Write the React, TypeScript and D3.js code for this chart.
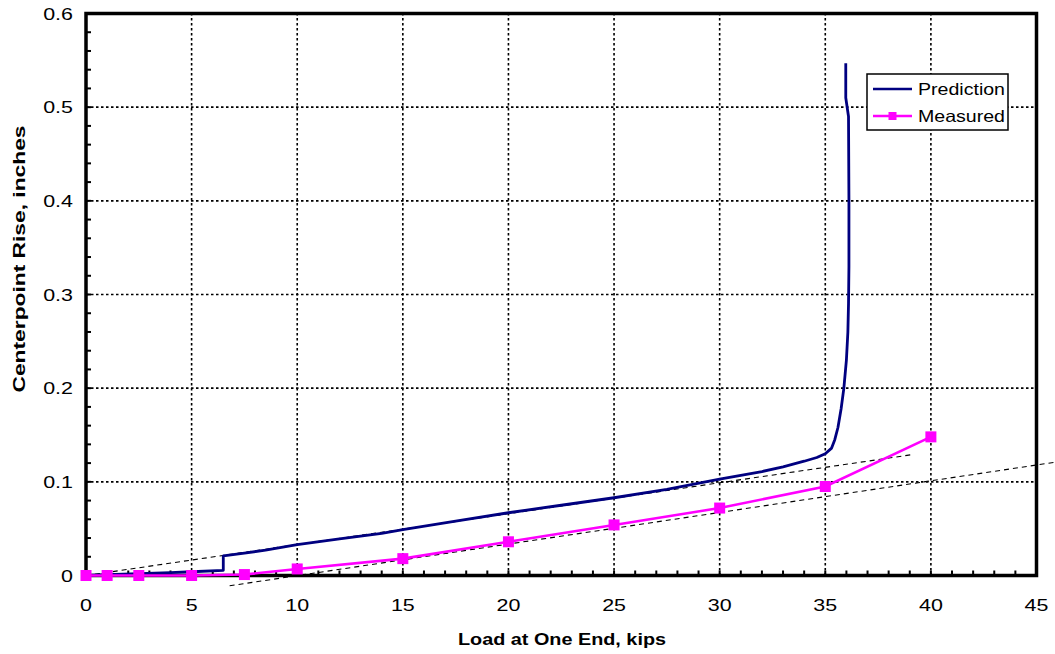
import React from "react";
import * as d3 from "d3";

const width = 1055;
const height = 654;

// prediction curve (load kips, rise inches)
const predLoad = [0, 1, 2.5, 4, 5, 6.5, 6.5, 7.5, 8.5, 10, 12, 14, 15, 17.5, 20, 22.5, 25, 27.5, 30, 32, 33, 34, 34.6, 35, 35.3, 35.45, 35.6, 35.75, 35.88, 36.0, 36.07, 36.1, 36.12, 36.12, 36.1, 35.97, 35.97];
const predRise = [0, 0.001, 0.002, 0.003, 0.004, 0.0055, 0.021, 0.024, 0.027, 0.033, 0.039, 0.045, 0.049, 0.058, 0.067, 0.075, 0.083, 0.092, 0.103, 0.111, 0.116, 0.122, 0.126, 0.13, 0.136, 0.145, 0.158, 0.178, 0.2, 0.23, 0.26, 0.29, 0.33, 0.4, 0.49, 0.51, 0.547];

// measured points
const measLoad = [0, 1, 2.5, 5, 7.5, 10, 15, 20, 25, 30, 35, 40];
const measRise = [0, 0, 0, 0, 0.001, 0.007, 0.018, 0.036, 0.054, 0.072, 0.095, 0.148];

// thin dashed tangent lines [x0, y0, x1, y1]
const tangentLines = [
  [0, 0, 39.1, 0.129],
  [6.8, -0.011, 45.9, 0.121],
];

const xTicks = [0, 5, 10, 15, 20, 25, 30, 35, 40, 45];
const yTicks = [0, 0.1, 0.2, 0.3, 0.4, 0.5, 0.6];
const yTickLabels = ["0", "0.1", "0.2", "0.3", "0.4", "0.5", "0.6"];

const x = d3.scaleLinear().domain([0, 45]).range([86, 1036.5]);
const y = d3.scaleLinear().domain([0, 0.6]).range([575.5, 13.5]);

const line = d3
  .line<[number, number]>()
  .x((d) => x(d[0]))
  .y((d) => y(d[1]));

const font = "'Liberation Sans', Arial, sans-serif";

const App = () => {
  const pred = predLoad.map((v, i) => [v, predRise[i]] as [number, number]);
  const meas = measLoad.map((v, i) => [v, measRise[i]] as [number, number]);
  const minorX = d3.range(0, 46, 1);
  const minorY = d3.range(0, 0.6001, 0.02);

  return (
    <svg
      width={width}
      height={height}
      viewBox={`0 0 ${width} ${height}`}
      style={{ position: "absolute", left: 0, top: 0, background: "white" }}
    >
      <rect x={0} y={0} width={width} height={height} fill="white" />

      {/* grid */}
      {xTicks.slice(1, -1).map((t) => (
        <line key={"gx" + t} x1={x(t)} x2={x(t)} y1={y(0)} y2={y(0.6)} stroke="black" strokeWidth={1.6} strokeDasharray="2.5,2.5" />
      ))}
      {yTicks.slice(1, -1).map((t) => (
        <line key={"gy" + t} x1={x(0)} x2={x(45)} y1={y(t)} y2={y(t)} stroke="black" strokeWidth={1.6} strokeDasharray="2.5,2.5" />
      ))}

      {/* ticks */}
      {minorX.map((t) => (
        <line key={"tx" + t} x1={x(t)} x2={x(t)} y1={y(0)} y2={y(0) - 5} stroke="black" strokeWidth={2} />
      ))}
      {minorY.map((t, i) => (
        <line key={"ty" + i} x1={x(0)} x2={x(0) + 5} y1={y(t)} y2={y(t)} stroke="black" strokeWidth={2} />
      ))}

      {/* tangent lines */}
      {tangentLines.map((l, i) => (
        <line key={"tl" + i} x1={x(l[0])} y1={y(l[1])} x2={x(l[2])} y2={y(l[3])} stroke="black" strokeWidth={1.1} strokeDasharray="5,4" />
      ))}

      {/* frame */}
      <rect x={x(0)} y={y(0.6)} width={x(45) - x(0)} height={y(0) - y(0.6)} fill="none" stroke="black" strokeWidth={3.5} />

      {/* series */}
      <path d={line(pred) || ""} fill="none" stroke="#000080" strokeWidth={2.8} strokeLinejoin="round" />
      <path d={line(meas) || ""} fill="none" stroke="#FF00FF" strokeWidth={2.6} />
      {meas.map((d, i) => (
        <rect key={"m" + i} x={x(d[0]) - 5.5} y={y(d[1]) - 5.5} width={11} height={11} fill="#FF00FF" />
      ))}

      {/* tick labels */}
      {xTicks.map((t) => (
        <text key={"lx" + t} transform={`translate(${x(t)},611) scale(1.3,1)`} textAnchor="middle" fontFamily={font} fontSize={16.5} fill="black">
          {t}
        </text>
      ))}
      {yTicks.map((t, i) => (
        <text key={"ly" + t} transform={`translate(73,${y(t) + 6}) scale(1.3,1)`} textAnchor="end" fontFamily={font} fontSize={16.5} fill="black">
          {yTickLabels[i]}
        </text>
      ))}

      {/* axis titles */}
      <text x={562} y={645} textAnchor="middle" fontFamily={font} fontSize={16.5} fontWeight="bold" textLength={208} lengthAdjust="spacingAndGlyphs">
        Load at One End, kips
      </text>
      <text transform="translate(25,259) rotate(-90)" textAnchor="middle" fontFamily={font} fontSize={16.5} fontWeight="bold" textLength={267} lengthAdjust="spacingAndGlyphs">
        Centerpoint Rise, inches
      </text>

      {/* legend */}
      <g>
        <rect x={867} y={74} width={141} height={56} fill="white" stroke="black" strokeWidth={1.5} />
        <line x1={873} x2={912} y1={89} y2={89} stroke="#000080" strokeWidth={2.6} />
        <text x={918} y={95} fontFamily={font} fontSize={16.5} textLength={87} lengthAdjust="spacingAndGlyphs">
          Prediction
        </text>
        <line x1={873} x2={912} y1={116} y2={116} stroke="#FF00FF" strokeWidth={2.6} />
        <rect x={888.5} y={112} width={8} height={8} fill="#FF00FF" />
        <text x={918} y={122} fontFamily={font} fontSize={16.5} textLength={87} lengthAdjust="spacingAndGlyphs">
          Measured
        </text>
      </g>
    </svg>
  );
};

export default App;
